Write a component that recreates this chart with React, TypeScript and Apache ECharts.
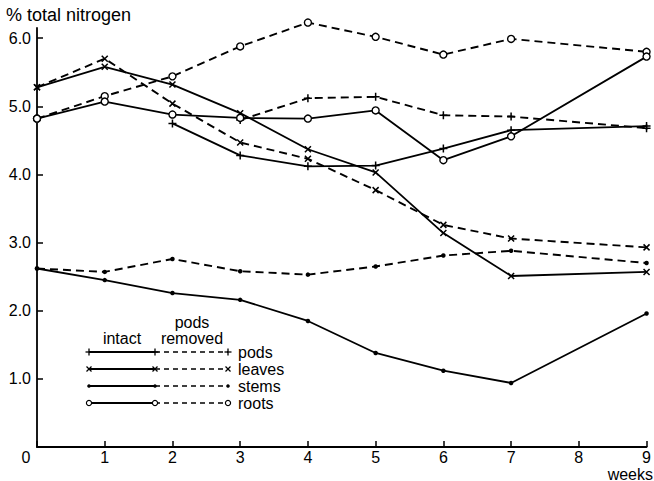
import React, { useEffect, useRef } from "react";
import * as echarts from "echarts";

const weeks = [0, 1, 2, 3, 4, 5, 6, 7, 9];
const podsIntact = [null, null, 4.75, 4.28, 4.12, 4.13, 4.38, 4.65, 4.71];
const podsRemoved = [null, null, null, 4.8, 5.12, 5.14, 4.87, 4.85, 4.68];
const leavesIntact = [5.28, 5.58, 5.32, 4.9, 4.37, 4.03, 3.14, 2.51, 2.57];
const leavesRemoved = [5.28, 5.7, 5.04, 4.47, 4.23, 3.77, 3.26, 3.06, 2.93];
const stemsIntact = [2.62, 2.45, 2.26, 2.16, 1.85, 1.38, 1.12, 0.94, 1.96];
const stemsRemoved = [2.62, 2.57, 2.76, 2.58, 2.53, 2.65, 2.81, 2.88, 2.7];
const rootsIntact = [4.82, 5.07, 4.88, 4.83, 4.82, 4.94, 4.21, 4.56, 5.73];
const rootsRemoved = [4.82, 5.15, 5.44, 5.88, 6.23, 6.02, 5.76, 5.99, 5.8];

const xTicks = [0, 1, 2, 3, 4, 5, 6, 7, 8, 9];
const yTickLabels = [1, 2, 3, 4, 5, 6];
const legendRows = ["pods", "leaves", "stems", "roots"];

const FONT = "Liberation Sans";
const PLUS = "path://M0,5 L10,5 M5,0 L5,10";
const CROSS = "path://M1,1 L9,9 M9,1 L1,9";

type Kind = "plus" | "cross" | "dot" | "circle";
const kinds: Kind[] = ["plus", "cross", "dot", "circle"];

function symbolFor(k: Kind) {
  if (k === "plus") return { symbol: PLUS, symbolSize: 8, itemStyle: { color: "#000", borderColor: "#000", borderWidth: 1.5 } };
  if (k === "cross") return { symbol: CROSS, symbolSize: 6, itemStyle: { color: "#000", borderColor: "#000", borderWidth: 1.5 } };
  if (k === "dot") return { symbol: "circle", symbolSize: 4.5, itemStyle: { color: "#000", borderWidth: 0 } };
  return { symbol: "circle", symbolSize: 7, itemStyle: { color: "#fff", borderColor: "#000", borderWidth: 1.4 } };
}

function makeSeries(name: string, values: (number | null)[], k: Kind, dashed: boolean) {
  return {
    name,
    type: "line",
    data: weeks.map((w, i) => [w, values[i]]),
    connectNulls: false,
    showAllSymbol: true,
    clip: false,
    ...symbolFor(k),
    lineStyle: { color: "#000", width: dashed ? 1.9 : 1.8, type: dashed ? [8, 5] : "solid" },
    z: dashed ? 2 : 3,
  };
}

function legendMarker(k: Kind, x: number, y: number): any[] {
  const s = { stroke: "#000", lineWidth: 1.3 };
  if (k === "plus")
    return [
      { type: "line", shape: { x1: x - 3.5, y1: y, x2: x + 3.5, y2: y }, style: s, z: 10 },
      { type: "line", shape: { x1: x, y1: y - 3.5, x2: x, y2: y + 3.5 }, style: s, z: 10 },
    ];
  if (k === "cross")
    return [
      { type: "line", shape: { x1: x - 2.5, y1: y - 2.5, x2: x + 2.5, y2: y + 2.5 }, style: s, z: 10 },
      { type: "line", shape: { x1: x + 2.5, y1: y - 2.5, x2: x - 2.5, y2: y + 2.5 }, style: s, z: 10 },
    ];
  if (k === "dot") return [{ type: "circle", shape: { cx: x, cy: y, r: 1.8 }, style: { fill: "#000" }, z: 10 }];
  return [{ type: "circle", shape: { cx: x, cy: y, r: 2.6 }, style: { fill: "#fff", stroke: "#000", lineWidth: 1.2 }, z: 10 }];
}

export default function App() {
  const ref = useRef<HTMLDivElement>(null);
  useEffect(() => {
    document.body.style.margin = "0";
    const chart = echarts.init(ref.current!, null, { renderer: "svg" });

    const legendGraphics: any[] = [];
    const x0 = 89, x1 = 155, x2 = 228;
    legendRows.forEach((name, i) => {
      const y = 352 + i * 17;
      const k = kinds[i];
      legendGraphics.push({ type: "line", shape: { x1: x0, y1: y, x2: x1, y2: y }, style: { stroke: "#000", lineWidth: 1.8 } });
      legendGraphics.push({ type: "line", shape: { x1: x1, y1: y, x2: x2, y2: y }, style: { stroke: "#000", lineWidth: 1.7, lineDash: [5, 4] } });
      legendGraphics.push(...legendMarker(k, x0, y), ...legendMarker(k, x1, y), ...legendMarker(k, x2, y));
      legendGraphics.push({
        type: "text", x: 238, y, style: { text: name, font: `16px "${FONT}"`, fill: "#000", textVerticalAlign: "middle" },
      });
    });
    legendGraphics.push(
      { type: "text", x: 122, y: 338, style: { text: "intact", font: `16px "${FONT}"`, fill: "#000", textAlign: "center", textVerticalAlign: "middle" } },
      { type: "text", x: 192, y: 322, style: { text: "pods", font: `16px "${FONT}"`, fill: "#000", textAlign: "center", textVerticalAlign: "middle" } },
      { type: "text", x: 192, y: 338, style: { text: "removed", font: `16px "${FONT}"`, fill: "#000", textAlign: "center", textVerticalAlign: "middle" } },
      { type: "text", x: 6, y: 15, style: { text: "% total nitrogen", font: `18px "${FONT}"`, fill: "#000", textVerticalAlign: "middle" } },
      { type: "text", x: 653, y: 474, style: { text: "weeks", font: `16px "${FONT}"`, lineHeight: 15, fill: "#000", textAlign: "right", textVerticalAlign: "middle" } }
    );

    chart.setOption({
      animation: false,
      backgroundColor: "#fff",
      grid: { left: 37, right: 3, top: 28, bottom: 34, containLabel: false },
      xAxis: {
        type: "value",
        min: 0,
        max: 9,
        interval: 1,
        axisLine: { show: true, lineStyle: { color: "#000", width: 1.8 } },
        axisTick: { show: true, inside: true, length: 6, lineStyle: { color: "#000", width: 1.5 }, customValues: xTicks },
        axisLabel: {
          customValues: xTicks,
          color: "#000",
          fontFamily: FONT,
          fontSize: 16,
          lineHeight: 15,
          margin: 3,
          formatter: (v: number) => (v === 0 ? "{z|0}" : String(v)),
          rich: { z: { padding: [0, 22, 0, 0], fontFamily: FONT, fontSize: 16, lineHeight: 15, color: "#000" } },
        },
        splitLine: { show: false },
      },
      yAxis: {
        type: "value",
        min: 0,
        max: 6.15,
        axisLine: { show: true, lineStyle: { color: "#000", width: 1.8 } },
        axisTick: { show: true, inside: true, length: 6, lineStyle: { color: "#000", width: 1.5 }, customValues: yTickLabels },
        axisLabel: {
          customValues: yTickLabels,
          color: "#000",
          fontFamily: FONT,
          fontSize: 16,
          margin: 6,
          formatter: (v: number) => v.toFixed(1),
        },
        splitLine: { show: false },
      },
      graphic: legendGraphics,
      series: [
        makeSeries("pods intact", podsIntact, "plus", false),
        makeSeries("pods removed", podsRemoved, "plus", true),
        makeSeries("leaves intact", leavesIntact, "cross", false),
        makeSeries("leaves removed", leavesRemoved, "cross", true),
        makeSeries("stems intact", stemsIntact, "dot", false),
        makeSeries("stems removed", stemsRemoved, "dot", true),
        makeSeries("roots intact", rootsIntact, "circle", false),
        makeSeries("roots removed", rootsRemoved, "circle", true),
      ],
    });
    return () => chart.dispose();
  }, []);
  return <div ref={ref} style={{ width: 654, height: 481 }} />;
}
